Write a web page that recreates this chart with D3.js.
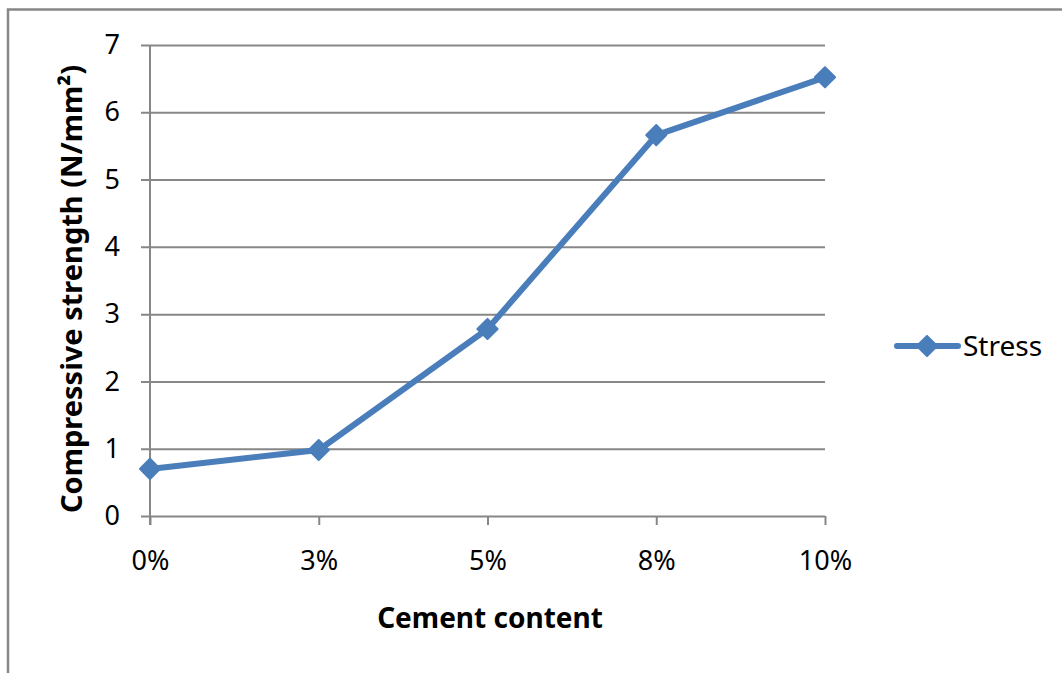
<!DOCTYPE html>
<html>
<head>
<meta charset="utf-8">
<script src="https://cdn.jsdelivr.net/npm/d3@7"></script>
<style>
  body { margin: 0; background: #fff; }
  svg { display: block; }
</style>
</head>
<body>
<div id="chart"></div>
<script>
// data
const categories = ["0%", "3%", "5%", "8%", "10%"];
const stress = [0.70, 0.98, 2.78, 5.66, 6.52];
const yTicks = [0, 1, 2, 3, 4, 5, 6, 7];
const seriesName = "Stress";

const width = 1062, height = 673;
const margin = { top: 45, right: 237, bottom: 157, left: 150 };
const blue = "#4a7ebb";
const gray = "#878787";
const font = "'Noto Sans', 'Open Sans', sans-serif";

const svg = d3.select("#chart").append("svg")
    .attr("width", width)
    .attr("height", height);

// outer frame (top + left edges only are visible)
svg.append("path")
    .attr("d", `M8,${height} V9.5 H${width}`)
    .attr("fill", "none")
    .attr("stroke", gray)
    .attr("stroke-width", 2.5);

const x = d3.scalePoint()
    .domain(categories)
    .range([margin.left, width - margin.right]);

const y = d3.scaleLinear()
    .domain([0, 7])
    .range([height - margin.bottom, margin.top]);

// gridlines + y axis
const yAxis = d3.axisLeft(y)
    .tickValues(yTicks)
    .tickSize(-(width - margin.right - margin.left) - 9)
    .tickFormat(d3.format("d"));

const gy = svg.append("g")
    .attr("transform", `translate(${margin.left - 9},0)`)
    .call(yAxis);
gy.select(".domain").remove();
gy.selectAll(".tick line")
    .attr("stroke", gray)
    .attr("stroke-width", 2)
    .attr("x1", 0);
gy.selectAll(".tick text")
    .attr("x", -21)
    .style("font-family", font)
    .style("font-size", "27px")
    .attr("fill", "#000");

// vertical axis line
svg.append("line")
    .attr("x1", margin.left).attr("x2", margin.left)
    .attr("y1", y(7)).attr("y2", y(0) + 9)
    .attr("stroke", gray)
    .attr("stroke-width", 2);

// x axis ticks + labels
const xAxis = d3.axisBottom(x)
    .tickSize(9)
    .tickPadding(26);

const gx = svg.append("g")
    .attr("transform", `translate(0,${y(0)})`)
    .call(xAxis);
gx.select(".domain").remove();
gx.selectAll(".tick line")
    .attr("stroke", gray)
    .attr("stroke-width", 2);
gx.selectAll(".tick text")
    .style("font-family", font)
    .style("font-size", "27px")
    .attr("fill", "#000");

// axis titles
svg.append("text")
    .attr("x", 490)
    .attr("y", 628)
    .attr("text-anchor", "middle")
    .style("font-family", font)
    .style("font-size", "28px")
    .style("font-weight", "bold")
    .text("Cement content");

svg.append("text")
    .attr("transform", "translate(82,289) rotate(-90)")
    .attr("text-anchor", "middle")
    .style("font-family", font)
    .style("font-size", "29px")
    .style("font-weight", "bold")
    .text("Compressive strength (N/mm²)");

// series line
const line = d3.line()
    .x((d, i) => x(categories[i]))
    .y(d => y(d));

svg.append("path")
    .datum(stress)
    .attr("d", line)
    .attr("fill", "none")
    .attr("stroke", blue)
    .attr("stroke-width", 6)
    .attr("stroke-linejoin", "round");

const diamond = d3.symbol().type(d3.symbolDiamond2).size(260);

svg.selectAll(".marker")
    .data(stress)
    .enter().append("path")
    .attr("class", "marker")
    .attr("transform", (d, i) => `translate(${x(categories[i])},${y(d)})`)
    .attr("d", diamond)
    .attr("fill", blue)
    .attr("stroke", blue)
    .attr("stroke-width", 2)
    .attr("stroke-linejoin", "round");

// legend
const legend = svg.append("g")
    .attr("transform", "translate(897,346)");

legend.append("line")
    .attr("x1", 0).attr("x2", 61)
    .attr("stroke", blue)
    .attr("stroke-width", 6)
    .attr("stroke-linecap", "round");

legend.append("path")
    .attr("transform", "translate(30,0)")
    .attr("d", diamond)
    .attr("fill", blue)
    .attr("stroke", blue)
    .attr("stroke-width", 2)
    .attr("stroke-linejoin", "round");

legend.append("text")
    .attr("x", 66)
    .attr("y", 10)
    .style("font-family", font)
    .style("font-size", "28px")
    .text(seriesName);
</script>
</body>
</html>
